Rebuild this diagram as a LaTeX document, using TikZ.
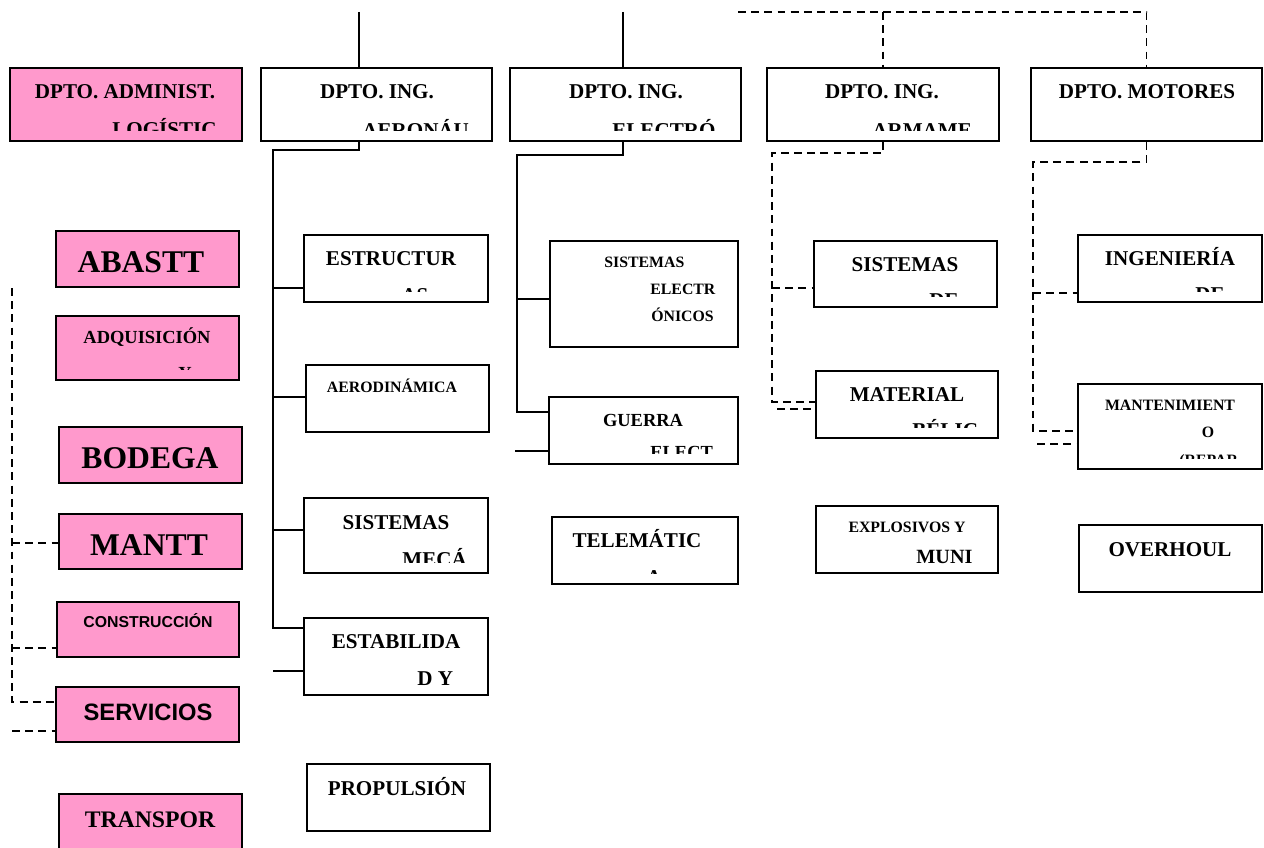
\documentclass[tikz,border=0pt]{standalone}
\usepackage{fontspec}
\setmainfont{Liberation Serif}
\newfontfamily\arialfont{Liberation Sans}
\usetikzlibrary{calc,fit}
\definecolor{rosa}{RGB}{255,153,204}
\newcommand{\fsz}[1]{\fontsize{#1}{#1}\selectfont}
\newcommand{\cutbox}[1]{\clip (#1.north west) rectangle ($(#1.south east)+(0,-11)$);}
\tikzset{
  box/.style={draw,line width=1pt,inner sep=0pt},
  pbox/.style={box,fill=rosa},
  txt/.style={inner sep=0pt,anchor=base,font=\bfseries\fsz{#1}},
  ltxt/.style={inner sep=0pt,anchor=base west,font=\bfseries\fsz{#1}},
  conn/.style={line width=1pt},
  dline/.style={line width=1pt,dash pattern=on 4.5pt off 3pt}
}

\begin{document}
\begin{tikzpicture}[x=0.02cm,y=-0.02cm]
  \useasboundingbox (0,0) rectangle (1264,848);
  \clip (0,0) rectangle (1264,848);
  % departamentos
  \node[pbox,fit={(10,68) (242,141)}] (adm) {};
  \node[box,fit={(261,68) (492,141)}] (aero) {};
  \node[box,fit={(510,68) (741,141)}] (elec) {};
  \node[box,fit={(767,68) (999,141)}] (arma) {};
  \node[box,fit={(1031,68) (1262,141)}] (motor) {};
  % logistica
  \node[pbox,fit={(56,231) (239,287)}] (abast) {};
  \node[pbox,fit={(56,316) (239,380)}] (adq) {};
  \node[pbox,fit={(59,427) (242,483)}] (bod) {};
  \node[pbox,fit={(59,514) (242,569)}] (mantt) {};
  \node[pbox,fit={(57,602) (239,657)}] (constr) {};
  \node[pbox,fit={(56,687) (239,742)}] (serv) {};
  \node[pbox,fit={(59,794) (242,870)}] (transp) {};
  % aeronautica
  \node[box,fit={(304,235) (488,302)}] (estr) {};
  \node[box,fit={(306,365) (489,432)}] (aerod) {};
  \node[box,fit={(304,498) (488,573)}] (mec) {};
  \node[box,fit={(304,618) (488,695)}] (estab) {};
  \node[box,fit={(307,764) (490,831)}] (prop) {};
  % electronica
  \node[box,fit={(550,241) (738,347)}] (sisel) {};
  \node[box,fit={(549,397) (738,464)}] (guerra) {};
  \node[box,fit={(552,517) (738,584)}] (tele) {};
  % armamento
  \node[box,fit={(814,241) (997,307)}] (sisde) {};
  \node[box,fit={(816,371) (998,438)}] (matbel) {};
  \node[box,fit={(816,506) (998,573)}] (explo) {};
  % motores
  \node[box,fit={(1078,235) (1262,302)}] (ing) {};
  \node[box,fit={(1078,384) (1262,469)}] (mant) {};
  \node[box,fit={(1079,525) (1262,592)}] (over) {};

  % textos
  \node[txt=12] (adm1) at (125,99) {DPTO. ADMINIST.};
  \node[txt=12] (aero1) at (377,99) {DPTO. ING.};
  \node[txt=12] (elec1) at (626,99) {DPTO. ING.};
  \node[txt=12] (arma1) at (882,99) {DPTO. ING.};
  \node[txt=12] (motor1) at (1147,99) {DPTO. MOTORES};
  \begin{scope}\cutbox{adm}\node[ltxt=12] (adm2) at (112,136) {LOGÍSTIC};\end{scope}
  \begin{scope}\cutbox{aero}\node[ltxt=12] (aero2) at (362,137) {AERONÁU};\end{scope}
  \begin{scope}\cutbox{elec}\node[ltxt=12] (elec2) at (612,137) {ELECTRÓ};\end{scope}
  \begin{scope}\cutbox{arma}\node[ltxt=12] (arma2) at (872,137) {ARMAME};\end{scope}

  \node[txt=18] (abast1) at (141,272) {ABASTT};
  \node[txt=10.5] (adq1) at (147,343) {ADQUISICIÓN};
  \begin{scope}\cutbox{adq}\node[ltxt=10.5] (adq2) at (178,379) {Y};\end{scope}
  \node[txt=18] (bod1) at (150,468) {BODEGA};
  \node[txt=18] (mantt1) at (149,555) {MANTT};
  \node[txt=9,font=\arialfont\bfseries\fsz{9}] (constr1) at (148,627) {CONSTRUCCIÓN};
  \node[txt=13.5,font=\arialfont\bfseries\fsz{13.5}] (serv1) at (148,720) {SERVICIOS};
  \node[txt=13.5] (transp1) at (150,827) {TRANSPOR};

  \node[txt=12] (estr1) at (391,265) {ESTRUCTUR};
  \begin{scope}\cutbox{estr}\node[ltxt=12] (estr2) at (401,302) {AS};\end{scope}
  \node[txt=9] (aerod1) at (392,392) {AERODINÁMICA};
  \node[txt=12] (mec1) at (396,529) {SISTEMAS};
  \begin{scope}\cutbox{mec}\node[ltxt=12] (mec2) at (402,566) {MECÁ};\end{scope}
  \node[txt=12] (estab1) at (396,648) {ESTABILIDA};
  \node[ltxt=12] (estab2) at (417,685) {D Y};
  \node[txt=12] (prop1) at (397,795) {PROPULSIÓN};

  \node[ltxt=9] (sisel1) at (604,267) {SISTEMAS};
  \node[ltxt=9] (sisel2) at (650,294) {ELECTR};
  \node[ltxt=9] (sisel3) at (651,321) {ÓNICOS};
  \node[txt=10.5] (guerra1) at (643,426) {GUERRA};
  \begin{scope}\cutbox{guerra}\node[ltxt=10.5] (guerra2) at (650,458) {ELECT};\end{scope}
  \node[txt=12] (tele1) at (637,547) {TELEMÁTIC};
  \begin{scope}\cutbox{tele}\node[txt=12] (tele2) at (654,584) {A};\end{scope}

  \node[txt=12] (sisde1) at (905,271) {SISTEMAS};
  \begin{scope}\cutbox{sisde}\node[ltxt=12] (sisde2) at (929,307) {DE};\end{scope}
  \node[txt=12] (matbel1) at (907,401) {MATERIAL};
  \begin{scope}\cutbox{matbel}\node[ltxt=12] (matbel2) at (912,437) {BÉLIC};\end{scope}
  \node[txt=9] (explo1) at (907,532) {EXPLOSIVOS Y};
  \node[ltxt=11.5] (explo2) at (916,563) {MUNI};

  \node[txt=12] (ing1) at (1170,265) {INGENIERÍA};
  \begin{scope}\cutbox{ing}\node[ltxt=12] (ing2) at (1195,301) {DE};\end{scope}
  \node[txt=9] (mant1) at (1170,410) {MANTENIMIENT};
  \node[txt=9] (mant2) at (1208,437) {O};
  \begin{scope}\cutbox{mant}\node[ltxt=9] (mant3) at (1179,465) {(REPAR};\end{scope}
  \node[txt=12] (over1) at (1170,556) {OVERHOUL};

  % lineas continuas
  \coordinate (atop) at (359,12);
  \coordinate (atr) at (273,150);
  \draw[conn] (atop) -- (atop |- aero.north);
  \draw[conn] (atop |- aero.south) |- (atr) -- (atr |- 0,628) -- (estab.west |- 0,628)
    (atr |- 0,288) -- (estr.west |- 0,288)
    (atr |- 0,397) -- (aerod.west |- 0,397)
    (atr |- 0,530) -- (mec.west |- 0,530)
    (atr |- 0,671) -- (estab.west |- 0,671);
  \coordinate (etop) at (623,12);
  \coordinate (etr) at (517,155);
  \draw[conn] (etop) -- (etop |- elec.north);
  \draw[conn] (etop |- elec.south) |- (etr) -- (etr |- 0,412) -- (guerra.west |- 0,412)
    (etr |- 0,299) -- (sisel.west |- 0,299)
    (515,451) -- (guerra.west |- 0,451);

  % lineas punteadas
  \coordinate (dtop) at (738,12);
  \draw[dline] (dtop) -| (motor.north)
    (arma.north |- dtop) -- (arma.north);
  \coordinate (dtr) at (772,153);
  \draw[dline] (arma.south) |- (dtr) -- (dtr |- 0,402) -- (matbel.west |- 0,402)
    (dtr |- 0,288) -- (sisde.west |- 0,288)
    (777,409) -- (matbel.west |- 0,409);
  \coordinate (mtr) at (1033,162);
  \draw[dline] (motor.south) |- (mtr) -- (mtr |- 0,431) -- (mant.west |- 0,431)
    (mtr |- 0,293) -- (ing.west |- 0,293)
    (1037,444) -- (mant.west |- 0,444);
  \coordinate (ltr) at (12,288);
  \draw[dline] (ltr) -- (ltr |- 0,702) -- (serv.west |- 0,702)
    (ltr |- 0,543) -- (mantt.west |- 0,543)
    (ltr |- 0,648) -- (constr.west |- 0,648)
    (ltr |- 0,731) -- (serv.west |- 0,731);
\end{tikzpicture}
\end{document}
